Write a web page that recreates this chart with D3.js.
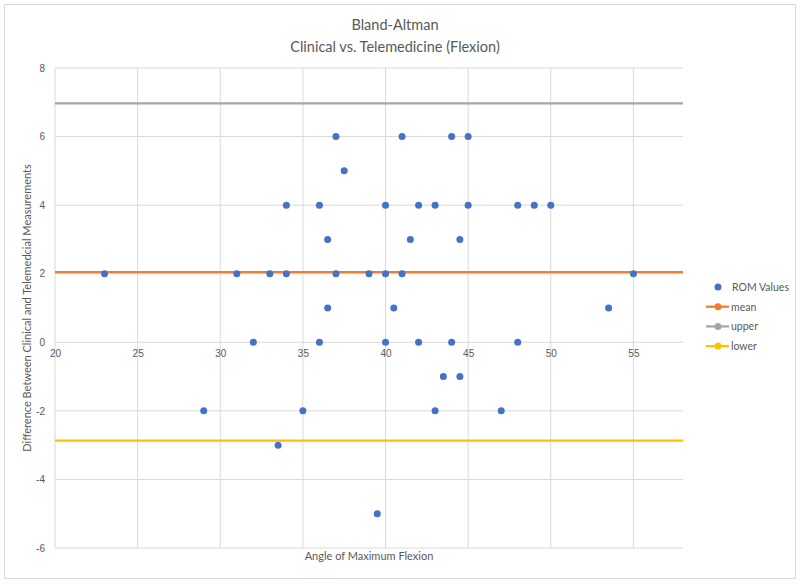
<!DOCTYPE html>
<html lang="en">
<head>
  <meta charset="UTF-8" />
  <title>Bland-Altman</title>
  <script src="https://d3js.org/d3.v7.min.js"></script>
  <style>
    body { margin: 0; background: #fff; font-family: 'Lato', 'Liberation Sans', sans-serif; }
    svg { display: block; }
    .tick text { fill: #595959; font-size: 10px; }
  </style>
</head>
<body>
  <svg id="chart" width="800" height="584"></svg>
  <script>
    // angle of max flexion vs difference (clinical - telemedicine)
    const angles = [23, 29, 31, 32, 33, 33.5, 34, 34, 35, 36, 36, 36.5, 36.5, 37, 37, 37.5,
                    39, 39.5, 40, 40, 40, 40.5, 41, 41, 41.5, 42, 42, 43, 43, 43.5, 44, 44,
                    44.5, 44.5, 45, 45, 47, 48, 48, 49, 50, 53.5, 55];
    const diffs  = [2, -2, 2, 0, 2, -3, 4, 2, -2, 4, 0, 3, 1, 6, 2, 5,
                    2, -5, 4, 2, 0, 1, 6, 2, 3, 4, 0, 4, -2, -1, 6, 0,
                    3, -1, 6, 4, -2, 4, 0, 4, 4, 1, 2];
    const meanDiff = 2.05;
    const upperLoA = 6.97;
    const lowerLoA = -2.87;
    const xTicks = [20, 25, 30, 35, 40, 45, 50, 55];
    const yTicks = [-6, -4, -2, 0, 2, 4, 6, 8];

    const svg = d3.select("#chart");
    const plotL = 55, plotR = 683, plotT = 68, plotB = 548;

    const x = d3.scaleLinear().domain([20, 58]).range([plotL, plotR]);
    const y = d3.scaleLinear().domain([-6, 8]).range([plotB, plotT]);

    // outer chart border
    svg.append("rect").attr("x", 4.5).attr("y", 4.5).attr("width", 791).attr("height", 574)
      .attr("fill", "none").attr("stroke", "#d9d9d9");

    // title
    const title = svg.append("text").attr("x", 395).attr("text-anchor", "middle")
      .attr("fill", "#595959").style("font-size", "14.5px");
    title.append("tspan").attr("x", 395).attr("y", 30).text("Bland-Altman");
    title.append("tspan").attr("x", 395).attr("y", 52).text("Clinical vs. Telemedicine (Flexion)");

    // gridlines
    svg.append("g").selectAll("line").data(yTicks).join("line")
      .attr("x1", plotL).attr("x2", plotR)
      .attr("y1", d => y(d)).attr("y2", d => y(d))
      .attr("stroke", "#d9d9d9").attr("stroke-width", 1);
    svg.append("g").selectAll("line").data(xTicks).join("line")
      .attr("x1", d => x(d)).attr("x2", d => x(d))
      .attr("y1", plotT).attr("y2", plotB)
      .attr("stroke", "#d9d9d9").attr("stroke-width", 1);

    // axes: y labels on the left, x labels under the zero line (plain hyphen minus like Excel)
    const yAxis = svg.append("g").attr("transform", `translate(${plotL},0)`)
      .call(d3.axisLeft(y).tickValues(yTicks).tickSize(0).tickPadding(10).tickFormat(d => String(d)));
    yAxis.select(".domain").remove();

    const xAxis = svg.append("g").attr("transform", `translate(0,${y(0)})`)
      .call(d3.axisBottom(x).tickValues(xTicks).tickSize(0).tickPadding(8).tickFormat(d => String(d)));
    xAxis.select(".domain").remove();

    // axis titles
    svg.append("text").attr("x", (plotL + plotR) / 2).attr("y", 560)
      .attr("text-anchor", "middle").attr("fill", "#595959").style("font-size", "11px")
      .text("Angle of Maximum Flexion");
    svg.append("text")
      .attr("transform", `translate(31,${(plotT + plotB) / 2}) rotate(-90)`)
      .attr("text-anchor", "middle").attr("fill", "#595959").style("font-size", "11px")
      .text("Difference Between Clinical and Telemedcial Measurements");

    // mean and limits of agreement
    const refLines = [
      { name: "mean", value: meanDiff, color: "#ED7D31" },
      { name: "upper", value: upperLoA, color: "#A5A5A5" },
      { name: "lower", value: lowerLoA, color: "#FFC000" }
    ];
    svg.append("g").selectAll("line").data(refLines).join("line")
      .attr("x1", plotL).attr("x2", plotR)
      .attr("y1", d => y(d.value)).attr("y2", d => y(d.value))
      .attr("stroke", d => d.color).attr("stroke-width", 2.25);

    // points
    svg.append("g").selectAll("circle").data(angles).join("circle")
      .attr("cx", d => x(d))
      .attr("cy", (d, i) => y(diffs[i]))
      .attr("r", 3.5)
      .attr("fill", "#4472C4");

    // legend
    const lg = svg.append("g").attr("transform", "translate(706,287)");
    lg.append("circle").attr("cx", 12).attr("cy", 0).attr("r", 3.5).attr("fill", "#4472C4");
    lg.append("text").attr("x", 26).attr("y", 4).attr("fill", "#595959").style("font-size", "10.5px").text("ROM Values");
    refLines.forEach((d, i) => {
      const row = lg.append("g").attr("transform", `translate(0,${(i + 1) * 19.7})`);
      row.append("line").attr("x1", 0).attr("x2", 23).attr("stroke", d.color).attr("stroke-width", 2.25);
      row.append("circle").attr("cx", 12).attr("r", 3.5).attr("fill", d.color);
      row.append("text").attr("x", 25).attr("y", 4).attr("fill", "#595959").style("font-size", "10.5px").text(d.name);
    });
  </script>
</body>
</html>
